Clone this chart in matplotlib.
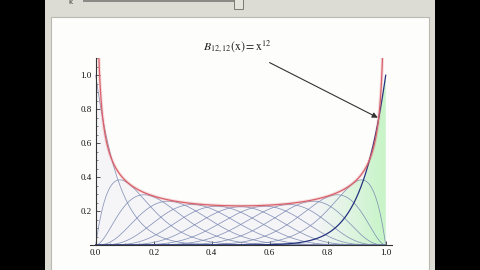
"""
Bernstein basis polynomials of degree 12, as shown in a Mathematica
Manipulate panel: all basis curves, the asymptotic envelope in red and
the selected polynomial B_{12,12}(x) = x^12 highlighted in blue.
"""
from math import comb

import matplotlib
matplotlib.use("Agg")
import matplotlib.pyplot as plt
import numpy as np
from matplotlib.patches import Rectangle

# ---------------------------------------------------------------------------
# Chart content
# ---------------------------------------------------------------------------
DEGREE = 12                      # n of the Bernstein basis
SELECTED_K = 12                  # slider value k (highlighted curve)
GREEN_FROM = 0.74                # where the green shading starts
X_TICKS = [0.0, 0.2, 0.4, 0.6, 0.8, 1.0]
X_TICK_LABELS = ["0.0", "0.2", "0.4", "0.6", "0.8", "1.0"]
Y_TICKS = [0.2, 0.4, 0.6, 0.8, 1.0]
Y_TICK_LABELS = ["0.2", "0.4", "0.6", "0.8", "1.0"]
LABEL = r"$B_{12,12}(\mathrm{x}) = \mathrm{x}^{12}$"
LABEL_POS = (0.49, 1.17)
ARROW_TIP = (0.973, 0.75)

# colours
BLACK = "#000000"
PANEL = "#dcdcd4"
PLOT_BG = "#fdfdfb"
BASIS = "#7482ad"
SELECTED = "#24337f"
ENVELOPE = "#d9606a"
GREY_FILL = "#f5f5f8"
GREEN_FILL = (0.72, 0.96, 0.72)

plt.rcParams["mathtext.fontset"] = "stix"


def bernstein(k, n, x):
    return comb(n, k) * x ** k * (1 - x) ** (n - k)


x = np.linspace(0, 1, 1200)
basis = [bernstein(k, DEGREE, x) for k in range(DEGREE + 1)]
upper = np.max(basis, axis=0)
xe = np.linspace(0.004, 0.996, 1200)
envelope = 1 / np.sqrt(2 * np.pi * DEGREE * xe * (1 - xe))

fig = plt.figure(figsize=(4.8, 2.7), dpi=100)
fig.patch.set_facecolor(BLACK)

# Manipulate panel frame (pixel coords -> figure fractions)
W, H = 480, 270


def px_rect(x0, y0, x1, y1, **kw):
    fig.patches.append(Rectangle((x0 / W, 1 - y1 / H), (x1 - x0) / W,
                                 (y1 - y0) / H, transform=fig.transFigure,
                                 zorder=-10, **kw))


px_rect(44.5, -2, 435, 272, facecolor=PANEL, edgecolor="none")
px_rect(51, 16.5, 428.5, 272, facecolor=PLOT_BG, edgecolor="#b9b9b1", lw=0.8)
# slider remnant at the top
px_rect(83, 0, 236, 1.8, facecolor="#8a8a86", edgecolor="none")
px_rect(234, -2, 243, 9, facecolor="#e4e4dc", edgecolor="#7a7a74", lw=0.7)
fig.text(68 / W, 1 - 1.5 / H, "k", fontsize=5, color="#333333",
         ha="left", va="center")

ax = fig.add_axes([89.9 / W, 25 / H, 301.6 / W, 186.7 / H])
ax.set_zorder(5)
ax.set_facecolor("none")

# shading under the basis curves
ax.fill_between(x, 0, upper, color=GREY_FILL, lw=0, zorder=1)
green = ax.fill_between(x, 0, upper, color="none", lw=0, zorder=2)
ramp = np.clip((np.linspace(0, 1, 400) - GREEN_FROM) / 0.24, 0, 1)
rgba = np.zeros((2, 400, 4))
rgba[..., :3] = GREEN_FILL
rgba[..., 3] = ramp ** 1.2 * 0.7
img = ax.imshow(rgba, extent=(0, 1, 0, 1.1), aspect="auto", zorder=2,
                interpolation="bilinear")
img.set_clip_path(green.get_paths()[0], transform=ax.transData)
ax.set_xlim(-0.02, 1.02)
ax.set_ylim(0, 1.1)

for k, curve in enumerate(basis):
    if k == SELECTED_K:
        continue
    ax.plot(x, curve, color=BASIS, lw=0.55, alpha=0.85, zorder=3)
ax.plot(x, basis[SELECTED_K], color=SELECTED, lw=0.9, zorder=4)

ax.plot(xe, envelope, color=ENVELOPE, lw=2.4, alpha=0.2, zorder=5)
ax.plot(xe, envelope, color=ENVELOPE, lw=0.9, zorder=6)

ax.annotate(LABEL, xy=ARROW_TIP, xytext=LABEL_POS, textcoords="data",
            ha="center", va="center", fontsize=8.5, color="#222222",
            annotation_clip=False, zorder=7,
            arrowprops=dict(arrowstyle="-|>", color="#333333", lw=0.8,
                            mutation_scale=8, shrinkA=8, shrinkB=0))

# Mathematica-style axes through the origin
for side in ("top", "right"):
    ax.spines[side].set_visible(False)
ax.spines["left"].set_position(("data", 0))
ax.spines["bottom"].set_position(("data", 0))
for side in ("left", "bottom"):
    ax.spines[side].set_color("#333333")
    ax.spines[side].set_linewidth(0.8)
    ax.spines[side].set_zorder(8)

ax.set_xticks(X_TICKS, X_TICK_LABELS)
ax.set_yticks(Y_TICKS, Y_TICK_LABELS)
ax.set_xticks(np.arange(0, 1.0001, 0.05), minor=True)
ax.set_yticks(np.arange(0, 1.1001, 0.05), minor=True)
ax.tick_params(which="major", direction="in", length=3, width=0.6,
               colors="#333333", labelsize=6.5, pad=3)
ax.tick_params(which="minor", direction="in", length=1.5, width=0.5,
               colors="#555555")
for lab in ax.get_xticklabels() + ax.get_yticklabels():
    lab.set_family("Liberation Serif")
    lab.set_color("#111111")

fig.savefig("out.png", dpi=100, facecolor=BLACK)
